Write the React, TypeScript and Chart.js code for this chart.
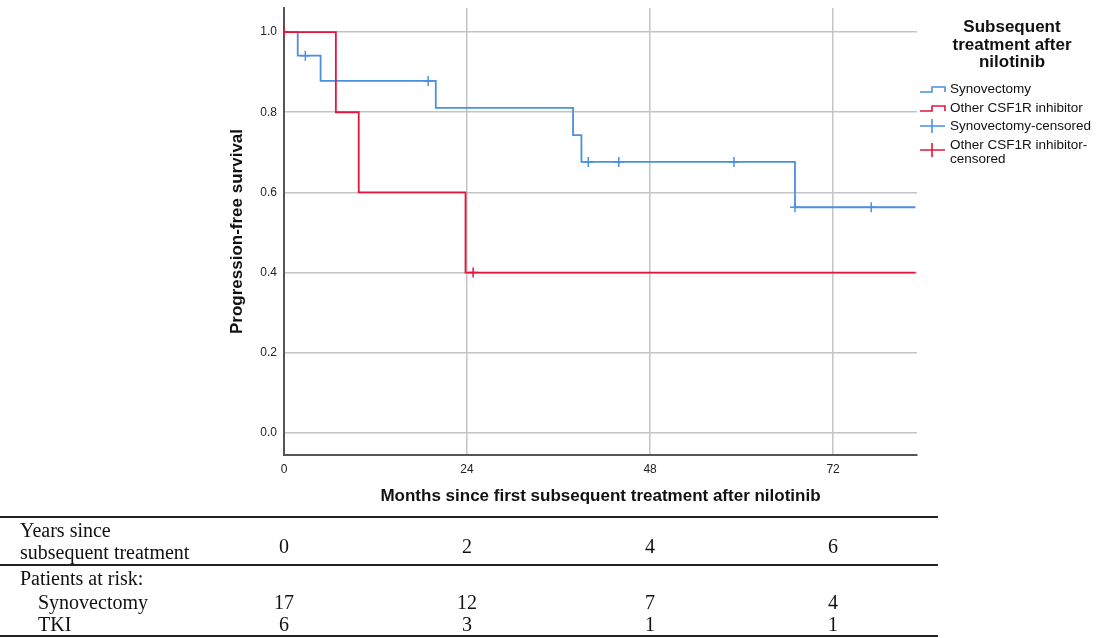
import React, { useEffect, useRef, useState } from 'react';
import { Chart, registerables } from 'chart.js';

Chart.register(...registerables);

// ---- Data ----
const synTimes = [0, 1.8, 4.8, 19.9, 37.9, 39.0, 67.0, 82.8];
const synSurv = [1.0, 0.941, 0.878, 0.811, 0.743, 0.676, 0.563, 0.563];
const synCensorTimes = [2.8, 18.9, 39.9, 43.9, 59.0, 67.0, 77.0];
const synCensorSurv = [0.941, 0.878, 0.676, 0.676, 0.676, 0.563, 0.563];

const otherTimes = [0, 6.8, 9.8, 23.8, 82.8];
const otherSurv = [1.0, 0.8, 0.6, 0.4, 0.4];
const otherCensorTimes = [0, 24.8];
const otherCensorSurv = [1.0, 0.4];

const xTicks = [0, 24, 48, 72];
const yTicks = [0, 0.2, 0.4, 0.6, 0.8, 1.0];

const legendTitle = ['Subsequent', 'treatment after', 'nilotinib'];
const legendLabels = ['Synovectomy', 'Other CSF1R inhibitor', 'Synovectomy-censored', 'Other CSF1R inhibitor-|censored'];

const tableYears = ['0', '2', '4', '6'];
const atRiskSyn = ['17', '12', '7', '4'];
const atRiskTki = ['6', '3', '1', '1'];

const BLUE = '#4a90e2';
const RED = '#e3163d';
const SANS = '"Liberation Sans", Arial, sans-serif';
const SERIF = '"Liberation Serif", "Times New Roman", serif';

const pts = (xs: number[], ys: number[]) => xs.map((x, i) => ({ x, y: ys[i] }));

const legendPlugin = {
  id: 'kmLegend',
  afterDraw(chart: any) {
    const ctx = chart.ctx;
    const right = chart.chartArea.right;
    ctx.save();
    ctx.fillStyle = '#111';
    ctx.textAlign = 'center';
    ctx.textBaseline = 'alphabetic';
    ctx.font = `bold 17px ${SANS}`;
    const cx = right + 95;
    const titleBase = [32, 50, 67];
    legendTitle.forEach((t, i) => ctx.fillText(t, cx, titleBase[i]));

    ctx.font = `13.5px ${SANS}`;
    ctx.textAlign = 'left';
    ctx.textBaseline = 'middle';
    const sx = right + 3;
    const tx = right + 33;
    const rows = [89, 108, 126, 145];
    const colors = [BLUE, RED, BLUE, RED];
    legendLabels.forEach((lab, i) => {
      const y = rows[i];
      ctx.strokeStyle = colors[i];
      ctx.lineWidth = 1.6;
      ctx.beginPath();
      if (i < 2) {
        ctx.moveTo(sx, y + 3);
        ctx.lineTo(sx + 12, y + 3);
        ctx.lineTo(sx + 12, y - 2);
        ctx.lineTo(sx + 25, y - 2);
        ctx.lineTo(sx + 25, y + 3);
        ctx.stroke();
      } else {
        const cy = i === 3 ? y + 5 : y;
        ctx.moveTo(sx, cy);
        ctx.lineTo(sx + 25, cy);
        ctx.moveTo(sx + 12, cy - 7);
        ctx.lineTo(sx + 12, cy + 7);
        ctx.stroke();
      }
      ctx.fillStyle = '#111';
      lab.split('|').forEach((part, j) => ctx.fillText(part, tx, y + j * 14));
    });
    ctx.restore();
  },
};

export default function App() {
  const canvasRef = useRef<HTMLCanvasElement>(null);
  const [cols, setCols] = useState<number[]>([]);

  useEffect(() => {
    if (!canvasRef.current) return;
    const chart = new Chart(canvasRef.current, {
      type: 'scatter',
      data: {
        datasets: [
          {
            label: 'Other CSF1R inhibitor',
            data: pts(otherTimes, otherSurv),
            showLine: true,
            stepped: true,
            borderColor: RED,
            borderWidth: 1.8,
            pointRadius: 0,
            fill: false,
          },
          {
            label: 'Other CSF1R inhibitor-censored',
            data: pts(otherCensorTimes, otherCensorSurv),
            showLine: false,
            pointStyle: 'cross',
            pointRadius: 5,
            borderColor: RED,
            backgroundColor: RED,
            pointBorderWidth: 1.5,
          },
          {
            label: 'Synovectomy',
            data: pts(synTimes, synSurv),
            showLine: true,
            stepped: true,
            borderColor: BLUE,
            borderWidth: 1.8,
            pointRadius: 0,
            fill: false,
          },
          {
            label: 'Synovectomy-censored',
            data: pts(synCensorTimes, synCensorSurv),
            showLine: false,
            pointStyle: 'cross',
            pointRadius: 5,
            borderColor: BLUE,
            backgroundColor: BLUE,
            pointBorderWidth: 1.5,
          },
        ],
      },
      options: {
        animation: false,
        responsive: false,
        maintainAspectRatio: false,
        layout: { padding: { left: 220, right: 190, top: 8, bottom: 0 } },
        plugins: { legend: { display: false }, tooltip: { enabled: false } },
        scales: {
          x: {
            type: 'linear',
            min: 0,
            max: 83,
            afterBuildTicks: (s: any) => { s.ticks = xTicks.map((v) => ({ value: v })); },
            afterFit: (s: any) => { s.height = 60; s.paddingLeft = 0; s.paddingRight = 0; },
            ticks: { font: { family: SANS, size: 12 }, color: '#222', padding: 7 },
            grid: { color: '#c4c4c4', lineWidth: 1.5, drawTicks: false },
            border: { display: true, color: '#555', width: 2 },
            title: {
              display: true,
              text: 'Months since first subsequent treatment after nilotinib',
              font: { family: SANS, size: 17, weight: 'bold' },
              color: '#111',
              padding: { top: 0, bottom: 8 },
            },
          },
          y: {
            type: 'linear',
            min: -0.055,
            max: 1.06,
            afterBuildTicks: (s: any) => { s.ticks = yTicks.map((v) => ({ value: v })); },
            afterFit: (s: any) => { s.width = 64; s.paddingTop = 0; s.paddingBottom = 0; },
            ticks: {
              font: { family: SANS, size: 12 },
              color: '#222',
              padding: 7,
              callback: (v: any) => Number(v).toFixed(1),
            },
            grid: { color: '#c4c4c4', lineWidth: 1.5, drawTicks: false },
            border: { display: true, color: '#555', width: 2 },
            title: {
              display: true,
              text: 'Progression-free survival',
              font: { family: SANS, size: 17, weight: 'bold' },
              color: '#111',
              padding: { top: 7, bottom: 0 },
            },
          },
        },
      },
      plugins: [legendPlugin],
    } as any);
    const xs = chart.scales.x;
    setCols(xTicks.map((v) => xs.getPixelForValue(v)));
    return () => chart.destroy();
  }, []);

  const rule = (top: number) => (
    <div style={{ position: 'absolute', left: 0, top, width: 938, height: 2, background: '#222' }} />
  );
  const txt = (s: string, left: number, top: number) => (
    <div style={{ position: 'absolute', left, top, whiteSpace: 'nowrap' }}>{s}</div>
  );
  const num = (s: string, cx: number, top: number, key: string) => (
    <div key={key} style={{ position: 'absolute', left: cx - 40, width: 80, top, textAlign: 'center' }}>{s}</div>
  );

  return (
    <div style={{ position: 'absolute', left: 0, top: 0, width: 1107, height: 638, background: '#fff', overflow: 'hidden' }}>
      <canvas ref={canvasRef} width={1107} height={515} style={{ position: 'absolute', left: 0, top: 0 }} />
      <div style={{ position: 'absolute', left: 0, top: 0, width: 1107, height: 638, fontFamily: SERIF, fontSize: 20, lineHeight: '22px', color: '#111' }}>
        {rule(516)}
        {txt('Years since', 20, 519)}
        {txt('subsequent treatment', 20, 541)}
        {cols.map((c, i) => num(tableYears[i], c, 535, 'y' + i))}
        {rule(564)}
        {txt('Patients at risk:', 20, 567)}
        {txt('Synovectomy', 38, 591)}
        {cols.map((c, i) => num(atRiskSyn[i], c, 591, 's' + i))}
        {txt('TKI', 38, 613)}
        {cols.map((c, i) => num(atRiskTki[i], c, 613, 't' + i))}
        {rule(635)}
      </div>
    </div>
  );
}
